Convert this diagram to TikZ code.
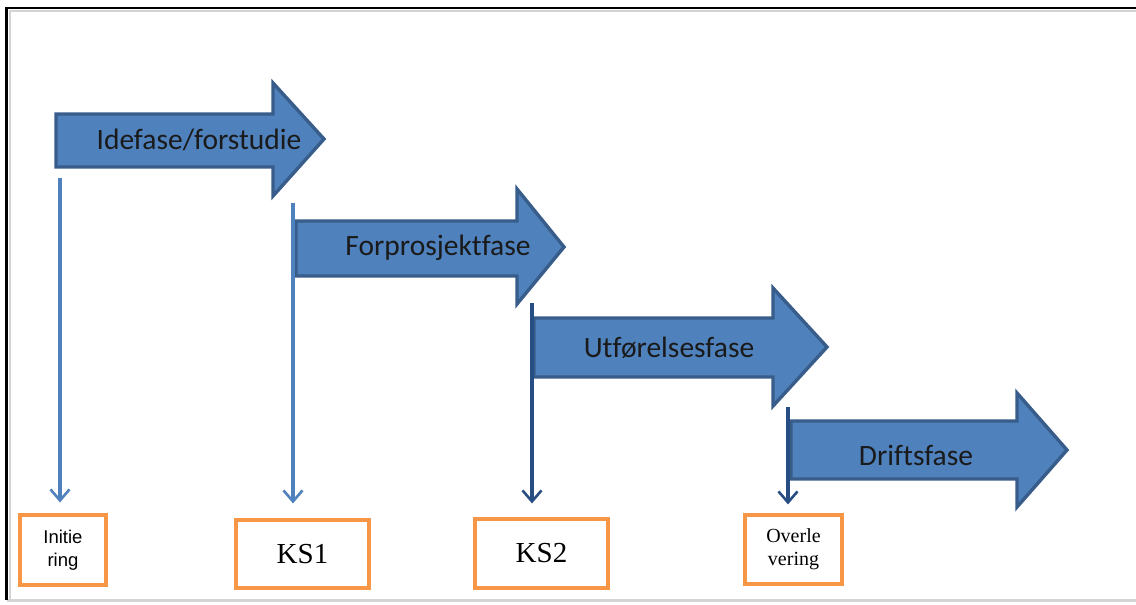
\documentclass[tikz,border=0pt]{standalone}
\usepackage{fontspec}
\setmainfont{Liberation Serif}
\newfontfamily\phasefont[Ligatures=NoCommon]{Carlito}
\newfontfamily\smallsans{Liberation Sans}
\usetikzlibrary{arrows.meta}

\definecolor{phasefill}{HTML}{4F81BD}
\definecolor{phaseedge}{HTML}{385D8A}
\definecolor{linklight}{HTML}{4F81BD}
\definecolor{linkdark}{HTML}{274E82}
\definecolor{gateedge}{HTML}{F79646}
\definecolor{framegray}{HTML}{D4D4D4}
\definecolor{labeltext}{HTML}{1A1A1A}

\tikzset{
  phasearrow/.style={fill=phasefill, draw=phaseedge, line width=3.4pt, line join=miter},
  phaselabel/.style={font=\phasefont\fontsize{29.5}{30}\selectfont, text=labeltext, inner sep=0pt},
  gatebox/.style={draw=gateedge, fill=white, line width=3.2pt, inner sep=0pt, align=center},
  gatelink/.style={line width=3.4pt, -{Straight Barb[length=11pt,width=19pt,line width=2.6pt]}},
}

% #1 left x, #2 body top, #3 body bottom, #4 head base x, #5 head top, #6 head bottom, #7 tip x, #8 tip y
\newcommand{\phaseshape}[8]{%
  \draw[phasearrow] (#1,#2) -- (#4,#2) -- (#4,#5) -- (#7,#8) -- (#4,#6) -- (#4,#3) -- (#1,#3) -- cycle;
}

\begin{document}
\begin{tikzpicture}[x=1pt,y=-1pt]
  \useasboundingbox (0,0) rectangle (1136,605);
  \fill[white] (0,0) rectangle (1136,605);

  % page frame
  \draw[framegray, line width=2pt] (9,10.5) -- (1136,10.5);
  \draw[framegray, line width=2pt] (9.5,10) -- (9.5,600);
  \draw[framegray, line width=3pt] (7,600.5) -- (1136,600.5);
  \draw[black, line width=2.4pt] (6.5,8) -- (1136,8);
  \draw[black, line width=2.4pt] (6.5,7) -- (6.5,600);

  % phases
  \phaseshape{56}{114}{167}{273}{83}{196}{324}{139}
  \node[phaselabel] (idefase) at (199,140) {Idefase/forstudie};

  \phaseshape{296}{221}{276}{517}{189}{304}{564}{247}
  \node[phaselabel] (forprosjekt) at (438,248) {Forprosjektfase};

  \phaseshape{534}{318}{377}{773}{288}{406}{827}{347}
  \node[phaselabel] (utforelse) at (669,348) {Utførelsesfase};

  \phaseshape{791}{421}{479}{1017}{393}{507}{1067}{450}
  \node[phaselabel] (drift) at (916,455) {Driftsfase};

  % decision gates
  \node[gatebox, minimum width=86pt, minimum height=70pt, font=\smallsans\fontsize{18.5}{23}\selectfont] (initiering) at (63,550) {Initie\\ring};
  \node[gatebox, minimum width=133pt, minimum height=68pt, font=\fontsize{29}{30}\selectfont] (ks1) at (302.5,554) {KS1};
  \node[gatebox, minimum width=133pt, minimum height=69pt, font=\fontsize{29}{30}\selectfont] (ks2) at (541.5,553.5) {KS2};
  \node[gatebox, minimum width=97pt, minimum height=69pt, font=\fontsize{20}{23}\selectfont] (overlevering) at (793.5,549.5) {Overle\\vering};

  % links from phase starts to gates
  \coordinate (s1) at (60,178);
  \coordinate (s2) at (293,203);
  \coordinate (s3) at (532,303);
  \coordinate (s4) at (788,407);
  \draw[gatelink, linklight] (s1) -- ([yshift=11pt]initiering.north -| s1);
  \draw[gatelink, linklight] (s2) -- ([yshift=15pt]ks1.north -| s2);
  \draw[gatelink, linkdark] (s3) -- ([yshift=14pt]ks2.north -| s3);
  \draw[gatelink, linkdark] (s4) -- ([yshift=9pt]overlevering.north -| s4);
\end{tikzpicture}
\end{document}
